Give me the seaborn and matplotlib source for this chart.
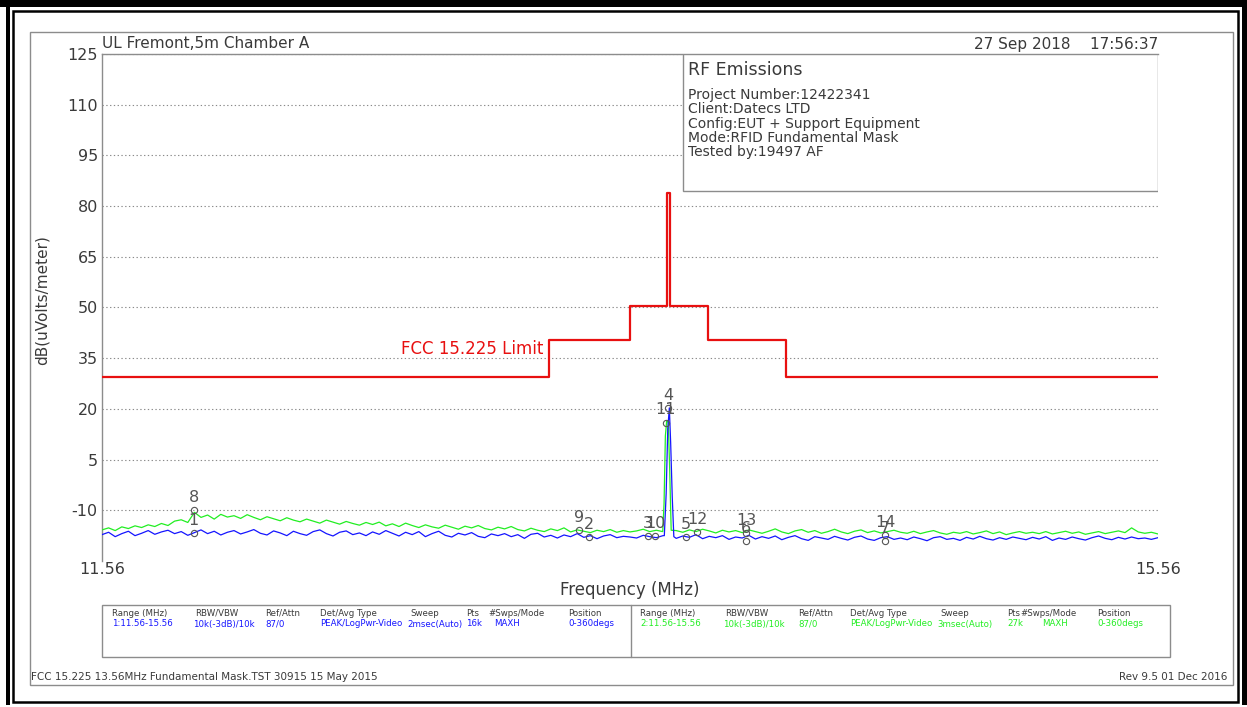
import numpy as np
import pandas as pd
import matplotlib
matplotlib.use('Agg')
import matplotlib.pyplot as plt
from matplotlib.patches import Rectangle
import seaborn as sns

W, H = 1247, 707

# Данные графика
x_min, x_max = 11.56, 15.56
y_min, y_max = -25, 125
y_ticks = [125, 110, 95, 80, 65, 50, 35, 20, 5, -10]

# Маска FCC 15.225 (ступени)
limit_freqs = [11.56, 13.253, 13.56, 13.700, 13.712, 13.855, 14.151, 15.56]
limit_levels = [29.5, 40.5, 50.5, 84.0, 50.5, 40.5, 29.5, 29.5]

# Трасса 1 (синяя), шаг сетки 0.025 МГц
blue_levels = [
    -17.2, -16.5, -17.8, -16.9, -16.2, -17.5, -16.8, -16.0, -17.1, -16.4, -15.9,
    -16.9, -16.3, -17.4, -16.6, -15.8, -16.9, -16.2, -17.3, -16.5, -16.0,
    -17.0, -16.4, -15.7, -16.8, -17.3, -16.1, -16.7, -17.5, -16.2, -16.9,
    -17.4, -16.3, -15.8, -16.9, -17.6, -16.5, -16.1, -17.2, -16.7, -17.5,
    -16.4, -17.1, -16.0, -16.8, -17.6, -16.5, -17.2, -16.3, -17.8, -16.9,
    -16.2, -17.4, -17.9, -16.8, -17.3, -16.6, -17.7, -18.1, -17.0, -17.5,
    -16.9, -17.8, -17.2, -18.3, -17.1, -16.8, -17.9, -17.4, -18.2, -17.3,
    -17.8, -16.9, -18.0, -17.5, -18.4, -17.6, -17.2, -18.1, -17.7, -17.9,
    -18.2, -17.4, -17.8, -18.1, -17.5, -17.9, -18.3, -17.6, -18.0, -17.2,
    -18.4, -17.7, -18.1, -17.5, -18.6, -17.9, -18.2, -17.4, -18.5, -17.8,
    -18.3, -17.6, -18.7, -18.0, -17.5, -18.4, -18.9, -17.8, -18.2, -18.6,
    -17.7, -18.3, -18.8, -18.0, -17.6, -18.5, -18.9, -18.1, -17.8, -18.6,
    -18.2, -18.7, -17.9, -18.4, -19.0, -18.1, -17.8, -18.6, -18.3, -18.9,
    -18.0, -18.5, -17.7, -18.4, -18.8, -18.1, -18.6, -17.9, -18.3, -18.7,
    -18.0, -18.5, -17.8, -18.9, -18.2, -18.6, -17.9, -18.4, -18.8, -18.1,
    -17.6, -18.3, -18.7, -18.0, -18.5, -17.9, -18.4, -18.2, -18.6, -18.1,
]
blue_peak_freqs = [13.690, 13.697, 13.703, 13.709, 13.714, 13.720, 13.726]
blue_peak_levels = [-17.5, -5.0, 14.0, 20.3, 10.0, -6.0, -17.8]

# Трасса 2 (зелёная)
green_levels = [
    -15.8, -15.2, -16.0, -14.9, -15.4, -14.6, -15.1, -14.3, -14.8, -13.9, -14.5,
    -13.2, -12.8, -13.6, -10.6, -12.1, -11.4, -12.6, -11.2, -12.0, -11.6,
    -12.4, -11.3, -12.1, -12.8, -11.9, -12.5, -13.1, -12.2, -12.9, -13.4,
    -12.6, -13.2, -13.8, -12.9, -13.5, -14.1, -13.3, -13.9, -14.4, -13.6,
    -14.2, -13.5, -14.6, -14.0, -14.8, -13.8, -14.5, -15.1, -14.3, -14.9,
    -15.3, -14.4, -15.0, -15.6, -14.7, -15.2, -14.5, -15.4, -15.8, -15.0,
    -15.5, -14.8, -15.7, -16.1, -15.3, -15.9, -16.3, -15.5, -16.0, -15.2,
    -16.4, -15.8, -16.2, -16.6, -15.9, -16.3, -15.7, -16.5, -16.0, -16.4,
    -16.1, -15.6, -16.3, -15.9, -16.2, -15.4, -16.0, -16.5, -15.8, -16.3,
    -15.6, -16.1, -16.7, -15.9, -16.4, -16.0, -16.6, -15.8, -16.3, -16.8,
    -16.2, -15.5, -16.4, -16.9, -16.1, -15.7, -16.5, -16.0, -16.8, -16.3,
    -15.6, -16.4, -16.9, -16.2, -15.8, -16.6, -16.1, -16.7, -16.3, -15.9,
    -16.5, -16.8, -16.2, -16.9, -16.4, -16.0, -16.7, -17.1, -16.5, -16.8,
    -16.3, -17.0, -16.6, -16.1, -16.9, -16.4, -17.2, -16.7, -16.3, -16.8,
    -16.5, -16.9, -16.3, -17.0, -16.6, -16.2, -16.8, -16.4, -17.1, -16.7,
    -16.3, -16.9, -16.5, -16.1, -16.6, -15.2, -16.4, -16.8, -16.5, -17.0,
]
green_peak_freqs = [13.684, 13.689, 13.694, 13.699, 13.705, 13.710, 13.716]
green_peak_levels = [-16.3, -8.0, 12.0, 16.5, 16.0, 3.0, -15.9]

# Маркеры
marker_labels = ['8', '1', '9', '2', '3', '10', '4', '11', '5', '12', '13', '6', '14', '7']
marker_freqs = [11.908, 11.908, 13.367, 13.405, 13.628, 13.655, 13.704, 13.696,
                13.772, 13.814, 14.000, 14.000, 14.526, 14.526]
marker_levels = [-10.0, -16.8, -15.9, -18.0, -17.7, -17.7, 20.2, 15.8,
                 -18.0, -16.5, -16.8, -19.2, -17.4, -19.2]

# Таблица настроек анализатора
table_headers = ['Range (MHz)', 'RBW/VBW', 'Ref/Attn', 'Det/Avg Type', 'Sweep',
                 'Pts', '#Swps/Mode', 'Position']
table_values_1 = ['1:11.56-15.56', '10k(-3dB)/10k', '87/0', 'PEAK/LogPwr-Video',
                  '2msec(Auto)', '16k', 'MAXH', '0-360degs']
table_values_2 = ['2:11.56-15.56', '10k(-3dB)/10k', '87/0', 'PEAK/LogPwr-Video',
                  '3msec(Auto)', '27k', 'MAXH', '0-360degs']

info_lines = ['Project Number:12422341', 'Client:Datecs LTD',
              'Config:EUT + Support Equipment', 'Mode:RFID Fundamental Mask',
              'Tested by:19497 AF']

BLUE = '#1515ff'
GREEN = '#22ee22'
RED = '#e81010'
TXT = '#3a3a3a'
FRAME = '#8c8c8c'


def trace_frame(levels, peak_f, peak_l, name):
    f = np.linspace(x_min, x_max, len(levels))
    lv = np.array(levels)
    keep = (f < min(peak_f)) | (f > max(peak_f))
    ff = np.concatenate([f[keep], peak_f])
    ll = np.concatenate([lv[keep], peak_l])
    order = np.argsort(ff)
    return pd.DataFrame({'freq': ff[order], 'level': ll[order], 'trace': name})


def px(x, y):
    return x / W, 1 - y / H


sns.set_style("white")
plt.rcParams['font.family'] = ['DejaVu Sans']
plt.rcParams['axes.unicode_minus'] = False

fig = plt.figure(figsize=(W / 100, H / 100), dpi=100)
ax = fig.add_axes([102 / W, 1 - 561 / H, (1158 - 102) / W, (561 - 54) / H])

df = pd.concat([trace_frame(green_levels, green_peak_freqs, green_peak_levels, '2'),
                trace_frame(blue_levels, blue_peak_freqs, blue_peak_levels, '1')],
               ignore_index=True)
sns.lineplot(data=df, x='freq', y='level', hue='trace', hue_order=['2', '1'],
             palette={'1': BLUE, '2': GREEN}, estimator=None, sort=False,
             linewidth=0.9, legend=False, ax=ax, zorder=4)

limit_df = pd.DataFrame({'freq': limit_freqs, 'level': limit_levels})
sns.lineplot(data=limit_df, x='freq', y='level', color=RED, linewidth=1.6,
             drawstyle='steps-post', estimator=None, sort=False, ax=ax, zorder=5)
ax.text(13.23, 37.6, 'FCC 15.225 Limit', color=RED, fontsize=12,
        ha='right', va='center', zorder=6)

# Маркеры
ax.plot(marker_freqs, marker_levels, linestyle='none', marker='o', markersize=4.5,
        markerfacecolor='none', markeredgecolor='#555555', markeredgewidth=0.8, zorder=6)
for lab, f, lv in zip(marker_labels, marker_freqs, marker_levels):
    ax.annotate(lab, (f, lv), xytext=(0, 9.5), textcoords='offset points',
                ha='center', va='center', fontsize=11.5, color='#555555', zorder=7)

ax.set_xlim(x_min, x_max)
ax.set_ylim(y_min, y_max)
ax.set_yticks(y_ticks)
ax.set_xticks([x_min, x_max])
ax.set_xticklabels(['11.56', '15.56'])
ax.tick_params(axis='both', length=0, labelsize=11.5, labelcolor=TXT)
ax.tick_params(axis='y', pad=3)
ax.tick_params(axis='x', pad=1)
ax.grid(axis='y', linestyle=(0, (1.2, 2.2)), color='#8a8a8a', linewidth=0.8)
ax.grid(axis='x', visible=False)
for side in ['right', 'bottom']:
    ax.spines[side].set_visible(False)
for side in ['left', 'top']:
    ax.spines[side].set_color(FRAME)
    ax.spines[side].set_linewidth(1.0)

ax.set_xlabel('Frequency (MHz)', fontsize=12, color=TXT)
ax.xaxis.set_label_coords(0.5, -0.058)
ax.xaxis.label.set_va('center')
ax.set_ylabel('dB(uVolts/meter)', fontsize=11, color=TXT)
ax.yaxis.set_label_coords(-0.050, 0.515)

# Информационный блок
ax.add_patch(Rectangle((0.5502, 0.7298), 0.4498, 0.2702, transform=ax.transAxes,
                       facecolor='white', edgecolor=FRAME, linewidth=1.0, zorder=8))
fig.text(*px(688, 70), 'RF Emissions', fontsize=12.5, color=TXT, va='center')
for i, line in enumerate(info_lines):
    fig.text(*px(688, 95 + i * 14.3), line, fontsize=10, color=TXT, va='center')

# Заголовки
fig.text(*px(102, 44), 'UL Fremont,5m Chamber A', fontsize=11, color=TXT, va='center')
fig.text(*px(1158, 44), '27 Sep 2018    17:56:37', fontsize=11, color=TXT,
         va='center', ha='right')

# Таблица внизу
fig.add_artist(Rectangle(px(102, 657), (1170 - 102) / W, (657 - 605) / H,
                         transform=fig.transFigure, fill=False, edgecolor=FRAME, lw=1.0))
fig.add_artist(plt.Line2D([631 / W, 631 / W], [1 - 605 / H, 1 - 657 / H],
                          transform=fig.transFigure, color=FRAME, lw=1.0))
cols_1 = [112, 195, 265, 320, 410, 466, 488, 568]
vals_x1 = [112, 193, 265, 320, 407, 466, 494, 568]
cols_2 = [640, 725, 798, 850, 940, 1007, 1020, 1097]
vals_x2 = [640, 723, 798, 850, 937, 1007, 1042, 1097]
for hx, vx, hdr, val in zip(cols_1, vals_x1, table_headers, table_values_1):
    fig.text(*px(hx, 613), hdr, fontsize=6.2, color=TXT, va='center')
    fig.text(*px(vx, 624), val, fontsize=6.2, color=BLUE, va='center')
for hx, vx, hdr, val in zip(cols_2, vals_x2, table_headers, table_values_2):
    fig.text(*px(hx, 613), hdr, fontsize=6.2, color=TXT, va='center')
    fig.text(*px(vx, 624), val, fontsize=6.2, color=GREEN, va='center')

# Подвал
fig.text(*px(31, 677), 'FCC 15.225 13.56MHz Fundamental Mask.TST 30915 15 May 2015',
         fontsize=7.5, color=TXT, va='center')
fig.text(*px(1227, 677), 'Rev 9.5 01 Dec 2016', fontsize=7.5, color=TXT,
         va='center', ha='right')

# Рамки
fig.add_artist(Rectangle(px(30, 685), (1233 - 30) / W, (685 - 32) / H,
                         transform=fig.transFigure, fill=False, edgecolor=FRAME, lw=1.0))
fig.add_artist(Rectangle(px(13, 702), (1238 - 13) / W, (702 - 11) / H,
                         transform=fig.transFigure, fill=False, edgecolor='black', lw=1.8))
fig.add_artist(Rectangle(px(0, 7), 1, 7 / H, transform=fig.transFigure,
                         facecolor='black', edgecolor='none'))
fig.add_artist(Rectangle(px(6, 705), 4 / W, 698 / H, transform=fig.transFigure,
                         facecolor='black', edgecolor='none'))
fig.add_artist(Rectangle(px(1242, 705), 5 / W, 698 / H, transform=fig.transFigure,
                         facecolor='black', edgecolor='none'))

fig.savefig('out.png', dpi=100)
plt.close(fig)
